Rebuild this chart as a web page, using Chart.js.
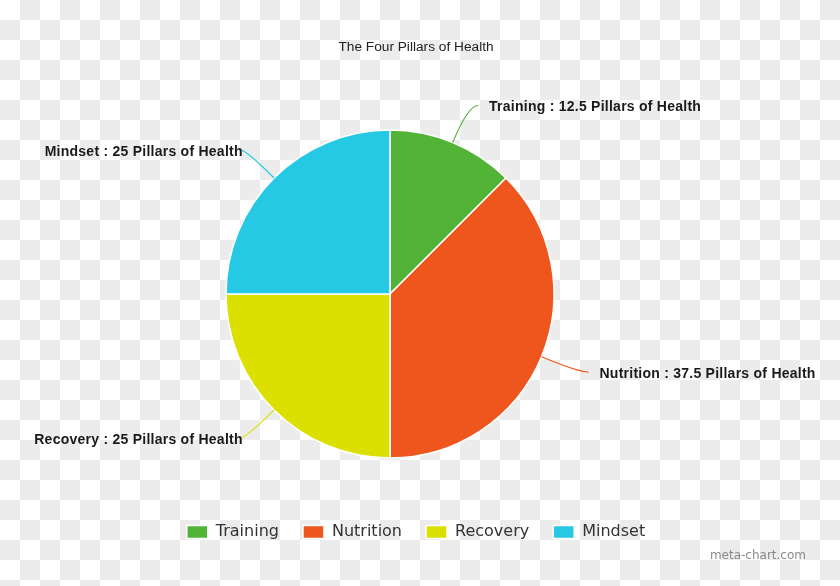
<!DOCTYPE html>
<html>
<head>
<meta charset="utf-8">
<title>The Four Pillars of Health</title>
<script src="https://cdn.jsdelivr.net/npm/chart.js@4/dist/chart.umd.min.js"></script>
<style>
  html, body {
    margin: 0;
    padding: 0;
  }
  body {
    width: 840px;
    height: 586px;
    background: repeating-conic-gradient(#ececec 0% 25%, #ffffff 0% 50%) 0 0 / 40px 40px;
  }
  #chart-container {
    position: relative;
    width: 840px;
    height: 586px;
  }
</style>
</head>
<body>
<div id="chart-container">
  <canvas id="chart"></canvas>
</div>
<script>
const categories = ["Training", "Nutrition", "Recovery", "Mindset"];
const pillarValues = [12.5, 37.5, 25, 25];
const sliceColors = ["#52b436", "#ef561d", "#dce000", "#26c9e4"];
const valueUnit = "Pillars of Health";
const chartTitle = "The Four Pillars of Health";
const watermark = "meta-chart.com";

// moves the pie a bit left of the title / legend centre, like the original
const shiftPie = {
  id: "shiftPie",
  afterLayout(chart) {
    chart.chartArea.left -= 26;
    chart.chartArea.right -= 26;
  }
};

// outside labels with leader lines
const pieLabels = {
  id: "pieLabels",
  afterDatasetsDraw(chart) {
    const ctx = chart.ctx;
    const meta = chart.getDatasetMeta(0);
    ctx.save();
    ctx.font = 'bold 14px "Liberation Sans", Arial, sans-serif';
    ctx.letterSpacing = "0.25px";
    ctx.textBaseline = "middle";
    ctx.lineWidth = 1.2;
    meta.data.forEach(function (arc, i) {
      const p = arc.getProps(["x", "y", "startAngle", "endAngle", "outerRadius"], true);
      const mid = (p.startAngle + p.endAngle) / 2;
      const cos = Math.cos(mid);
      const sin = Math.sin(mid);
      const x0 = p.x + cos * p.outerRadius;
      const y0 = p.y + sin * p.outerRadius;
      const x1 = p.x + cos * (p.outerRadius + 40);
      const y1 = p.y + sin * (p.outerRadius + 40);
      const right = cos >= 0;
      const x2 = x1 + (right ? 10 : -6);

      ctx.strokeStyle = sliceColors[i];
      ctx.beginPath();
      ctx.moveTo(x0, y0);
      ctx.quadraticCurveTo(x1, y1, x2, y1);
      ctx.stroke();

      ctx.fillStyle = "#1a1a1a";
      ctx.textAlign = right ? "left" : "right";
      const text = categories[i] + " : " + pillarValues[i] + " " + valueUnit;
      ctx.fillText(text, right ? x2 + 11 : x2 + 3, y1 + 2);
    });
    ctx.restore();
  }
};

const watermarkText = {
  id: "watermarkText",
  afterDraw(chart) {
    const ctx = chart.ctx;
    ctx.save();
    ctx.font = '12px "DejaVu Sans", sans-serif';
    ctx.fillStyle = "#8a8a8a";
    ctx.textAlign = "right";
    ctx.textBaseline = "middle";
    ctx.fillText(watermark, 806, 556);
    ctx.restore();
  }
};

const chartData = {
  labels: categories,
  datasets: [
    {
      data: pillarValues,
      backgroundColor: sliceColors,
      borderColor: "#ffffff",
      borderWidth: 1.5,
      radius: 164
    }
  ]
};

const chartOptions = {
  responsive: true,
  maintainAspectRatio: false,
  animation: false,
  layout: {
    padding: { left: 0, right: 8, top: 0, bottom: 36 }
  },
  plugins: {
    title: {
      display: true,
      text: chartTitle,
      color: "#222222",
      font: { family: '"Liberation Sans", Arial, sans-serif', size: 13.7, weight: "normal", lineHeight: 1.2 },
      padding: { top: 39, bottom: 32.5 }
    },
    legend: {
      position: "bottom",
      labels: {
        boxWidth: 21,
        boxHeight: 13,
        padding: 24,
        color: "#333333",
        font: { family: '"DejaVu Sans", sans-serif', size: 16 }
      }
    },
    tooltip: { enabled: false }
  }
};

window.myChart = new Chart(document.getElementById("chart"), {
  type: "pie",
  data: chartData,
  options: chartOptions,
  plugins: [shiftPie, pieLabels, watermarkText]
});
</script>
</body>
</html>
